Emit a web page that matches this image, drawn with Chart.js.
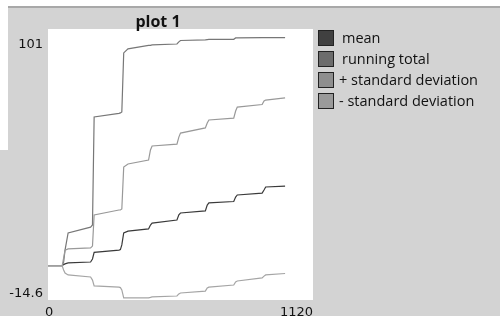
<!DOCTYPE html>
<html>
<head>
<meta charset="utf-8">
<script src="https://cdn.jsdelivr.net/npm/chart.js@4/dist/chart.umd.min.js"></script>
<style>
  body { margin: 0; background: #fff; }
  #wrap { position: relative; width: 500px; height: 316px; overflow: hidden; background: #d3d3d3; }
  #topband { position: absolute; left: 0; top: 0; right: 0; height: 6px; background: #fff; border-bottom: 2px solid #a8a8a8; }
  #leftband { position: absolute; left: 0; top: 0; width: 8px; height: 150px; background: #fff; }
  canvas { position: absolute; left: 0; top: 0; }
  .lbl { position: absolute; font-family: "DejaVu Sans", sans-serif; font-size: 13px; color: #111; line-height: 14px; }
  #title { position: absolute; left: 113px; width: 90px; top: 10px; text-align: center; font-family: "Open Sans", sans-serif; font-weight: bold; font-size: 16px; color: #111; }
  .leg { position: absolute; left: 318px; font-family: "Open Sans", sans-serif; font-size: 14.5px; color: #111; line-height: 16px; }
  .leg span { display: inline-block; width: 14px; height: 14px; border: 1px solid #222; vertical-align: -3px; margin-right: 8px; }
</style>
</head>
<body>
<div id="wrap">
  <div id="topband"></div>
  <div id="leftband"></div>
  <canvas id="plot" width="500" height="316"></canvas>
  <div id="title">plot 1</div>
  <div class="lbl" style="right:457px; top:37px;">101</div>
  <div class="lbl" style="right:457px; top:286px;">-14.6</div>
  <div class="lbl" style="left:45px; top:305px;">0</div>
  <div class="lbl" style="right:187px; top:305px;">1120</div>
  <div id="legend"></div>
</div>
<script>
// time steps shared by all series
const ticks = [0, 60, 66, 72, 85, 180, 188, 195, 300, 306, 312, 320, 338, 425, 433, 440, 545, 553, 560, 665, 673, 680, 785, 793, 800, 905, 913, 920, 1002];

const meanVals = [0, 0, 0.5, 0.8, 1.2, 1.6, 2.9, 5.7, 6.7, 6.9, 8.9, 14.0, 14.8, 15.7, 17.4, 18.2, 19.5, 21.7, 22.5, 23.4, 25.9, 26.8, 27.4, 29.3, 30.2, 31.0, 32.3, 33.6, 34.0];
const runningTotal = [0, 0, 1.6, 6.7, 14.0, 16.5, 17.4, 63.5, 65.0, 65.2, 65.6, 90.8, 92.5, 94.0, 94.0, 94.2, 94.6, 95.5, 96.1, 96.4, 96.5, 96.6, 96.6, 97.2, 97.2, 97.3, 97.3, 97.3, 97.3];
const plusSd = [0, 0, 3.3, 6.7, 7.2, 7.6, 8.4, 21.7, 23.8, 23.8, 24.2, 42.1, 43.4, 45.1, 49.4, 51.1, 51.9, 54.9, 56.6, 58.8, 60.9, 62.2, 63.0, 66.0, 67.7, 68.8, 70.3, 70.7, 71.6];
const minusSd = [0, 0, -1.8, -3.1, -3.9, -4.8, -6.1, -8.6, -9.1, -9.3, -10.3, -13.7, -13.7, -13.7, -13.5, -13.3, -12.9, -12.0, -11.6, -10.8, -9.5, -9.1, -8.2, -6.9, -6.5, -5.2, -4.4, -3.9, -3.3];

const seriesNames = ["mean", "running total", "+ standard deviation", "- standard deviation"];
const lineColors = ["#3a3a3a", "#777777", "#999999", "#a5a5a5"];
const swatchColors = ["#404040", "#6c6c6c", "#8e8e8e", "#9a9a9a"];

const xMin = 0, xMax = 1120;
const yMin = -14.6, yMax = 101;

function toPoints(vals) {
  return vals.map((v, i) => ({ x: ticks[i], y: v }));
}

const allSeries = [meanVals, runningTotal, plusSd, minusSd];

// legend as html
const legendEl = document.getElementById("legend");
seriesNames.forEach((name, i) => {
  const d = document.createElement("div");
  d.className = "leg";
  d.style.top = (30 + i * 21) + "px";
  const sw = document.createElement("span");
  sw.style.background = swatchColors[i];
  d.appendChild(sw);
  d.appendChild(document.createTextNode(name));
  if (name.startsWith("+") || name.startsWith("-")) sw.style.marginRight = "5px";
  legendEl.appendChild(d);
});

const whiteArea = {
  id: "whiteArea",
  beforeDraw(chart) {
    const a = chart.chartArea;
    const ctx = chart.ctx;
    ctx.save();
    ctx.fillStyle = "#ffffff";
    ctx.fillRect(a.left, a.top, a.right - a.left, a.bottom - a.top);
    ctx.restore();
  }
};

new Chart(document.getElementById("plot").getContext("2d"), {
  type: "line",
  data: {
    datasets: allSeries.map((vals, i) => ({
      label: seriesNames[i],
      data: toPoints(vals),
      borderColor: lineColors[i],
      borderWidth: 1.2,
      pointRadius: 0,
      tension: 0,
      fill: false
    })).reverse()
  },
  options: {
    responsive: false,
    animation: false,
    layout: { padding: { left: 48, top: 29, right: 187, bottom: 16 } },
    plugins: { legend: { display: false }, title: { display: false }, tooltip: { enabled: false } },
    scales: {
      x: { type: "linear", display: false, min: xMin, max: xMax },
      y: { type: "linear", display: false, min: yMin, max: yMax }
    }
  },
  plugins: [whiteArea]
});
</script>
</body>
</html>
